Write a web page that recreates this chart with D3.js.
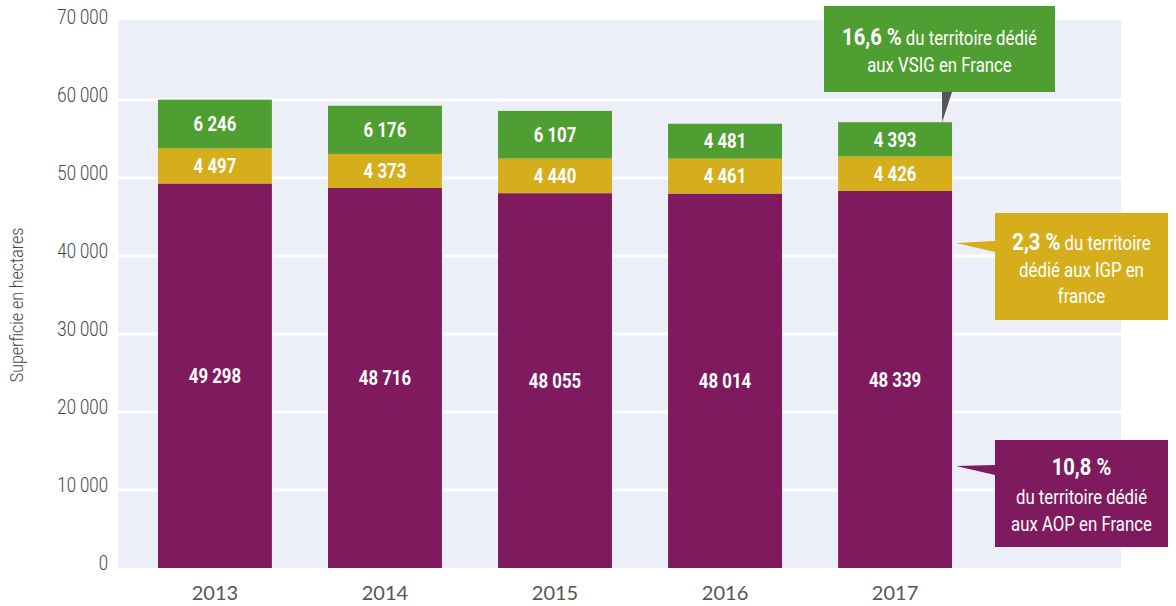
<!DOCTYPE html>
<html>
<head>
<meta charset="utf-8">
<script src="https://cdn.jsdelivr.net/npm/d3@7"></script>
<style>
  body { margin: 0; background: #fff; }
  svg { display: block; }
  text { font-family: "Roboto", "DejaVu Sans Condensed", sans-serif; }
</style>
</head>
<body>
<div id="chart"></div>
<script>
// data
const years = ["2013", "2014", "2015", "2016", "2017"];
const aop = [49298, 48716, 48055, 48014, 48339];
const igp = [4497, 4373, 4440, 4461, 4426];
const vsig = [6246, 6176, 6107, 4481, 4393];
const yTicks = [0, 10000, 20000, 30000, 40000, 50000, 60000, 70000];
const seriesKeys = ["aop", "igp", "vsig"];
const colors = { aop: "#7f1a5e", igp: "#d6ae1c", vsig: "#4f9e31" };

const notes = [
  { key: "vsig", bold: "16,6 %", lines: [" du territoire dédié", "aux VSIG en France"] },
  { key: "igp", bold: "2,3 %", lines: [" du territoire", "dédié aux IGP en", "france"] },
  { key: "aop", bold: "10,8 %", lines: ["", "du territoire dédié", "aux AOP en France"] }
];

const width = 1176, height = 606;
const plot = { left: 118, right: 1121, top: 22, bottom: 568 };
const squeeze = 0.84; // the original uses a condensed face

const svg = d3.select("#chart").append("svg")
  .attr("width", width)
  .attr("height", height);

// place a text at (px,py) squeezed horizontally
function place(sel, px, py) {
  sel.attr("transform", (d, i) => {
    const a = typeof px === "function" ? px(d, i) : px;
    const b = typeof py === "function" ? py(d, i) : py;
    return "translate(" + a + "," + b + ") scale(" + squeeze + ",1)";
  });
}

const x = d3.scaleBand()
  .domain(years)
  .range([plot.left, 992])
  .paddingInner(0.33)
  .paddingOuter(0.235);

const y = d3.scaleLinear()
  .domain([0, 70000])
  .range([plot.bottom, plot.top]);

// background
svg.append("rect")
  .attr("x", plot.left)
  .attr("y", y(70000) - 2)
  .attr("width", plot.right - plot.left)
  .attr("height", plot.bottom - y(70000) + 2)
  .attr("fill", "#eceff8");

// gridlines
svg.selectAll("line.grid")
  .data(yTicks.filter(d => d > 0 && d < 70000))
  .enter().append("line")
  .attr("class", "grid")
  .attr("x1", plot.left).attr("x2", plot.right)
  .attr("y1", d => y(d)).attr("y2", d => y(d))
  .attr("stroke", "#fff")
  .attr("stroke-width", 3);

// y axis labels
const fmt = d => d === 0 ? "0" : d3.format(",")(d).replace(/,/g, " ");
svg.selectAll("text.ytick")
  .data(yTicks)
  .enter().append("text")
  .attr("class", "ytick")
  .attr("dy", "0.1em")
  .attr("text-anchor", "end")
  .attr("font-size", 20)
  .attr("font-weight", 300)
  .attr("fill", "#444")
  .text(fmt)
  .call(place, 108, d => y(d));

svg.append("text")
  .attr("transform", "translate(23," + ((plot.top + plot.bottom) / 2 + 10) + ") rotate(-90) scale(" + squeeze + ",1)")
  .attr("text-anchor", "middle")
  .attr("font-size", 19)
  .attr("font-weight", 300)
  .attr("fill", "#444")
  .text("Superficie en hectares");

// x axis labels
svg.selectAll("text.xtick")
  .data(years)
  .enter().append("text")
  .attr("class", "xtick")
  .attr("x", d => x(d) + x.bandwidth() / 2)
  .attr("y", 606 - 6)
  .attr("text-anchor", "middle")
  .attr("font-size", 20)
  .attr("fill", "#555")
  .style("font-family", "Lato, 'Open Sans', sans-serif")
  .text(d => d);

// stacked bars
const table = years.map((yr, i) => ({ year: yr, aop: aop[i], igp: igp[i], vsig: vsig[i] }));
const stack = d3.stack().keys(seriesKeys)(table);

const layers = svg.selectAll("g.layer")
  .data(stack)
  .enter().append("g")
  .attr("class", "layer")
  .attr("fill", d => colors[d.key]);

layers.selectAll("rect")
  .data(d => d)
  .enter().append("rect")
  .attr("x", d => x(d.data.year))
  .attr("width", x.bandwidth())
  .attr("y", d => y(d[1]))
  .attr("height", d => y(d[0]) - y(d[1]));

layers.selectAll("text")
  .data(d => d.map(v => ({ v: v, key: d.key })))
  .enter().append("text")
  .attr("dy", "0.36em")
  .attr("text-anchor", "middle")
  .attr("fill", "#fff")
  .attr("font-size", 20)
  .attr("font-weight", "bold")
  .text(d => fmt(d.v.data[d.key]))
  .call(place, d => x(d.v.data.year) + x.bandwidth() / 2, d => (y(d.v[0]) + y(d.v[1])) / 2);

// annotations
function drawNote(n, box, pointer, pointerFill, lineYs) {
  svg.append("path")
    .attr("d", "M" + pointer.map(p => p.join(",")).join("L") + "Z")
    .attr("fill", pointerFill);
  svg.append("rect")
    .attr("x", box.x).attr("y", box.y)
    .attr("width", box.w).attr("height", box.h)
    .attr("fill", colors[n.key]);
  const cx = box.x + box.w / 2;
  n.lines.forEach((ln, i) => {
    const t = svg.append("text")
      .attr("text-anchor", "middle")
      .attr("fill", "#fff")
      .attr("font-size", 20)
      .call(place, cx, lineYs[i]);
    if (i === 0) {
      t.append("tspan").attr("font-weight", "bold").attr("font-size", 24).text(n.bold);
    }
    if (ln) t.append("tspan").text(ln);
  });
}

const last = stack.map(s => s[s.length - 1]);
const xr = x("2017") + x.bandwidth();

// VSIG note
drawNote(notes[0], { x: 824, y: 6, w: 231, h: 86 },
  [[942, 92], [952, 92], [x("2017") + 104, y(last[2][1])]], "#555", [45, 72]);
// IGP note
drawNote(notes[1], { x: 995, y: 213, w: 173, h: 107 },
  [[xr + 4, 243], [995, 241], [995, 252]], colors.igp, [250, 277, 303]);
// AOP note
drawNote(notes[2], { x: 995, y: 440, w: 173, h: 107 },
  [[xr + 4, 466], [995, 465], [995, 475]], colors.aop, [475, 504, 531]);
</script>
</body>
</html>
